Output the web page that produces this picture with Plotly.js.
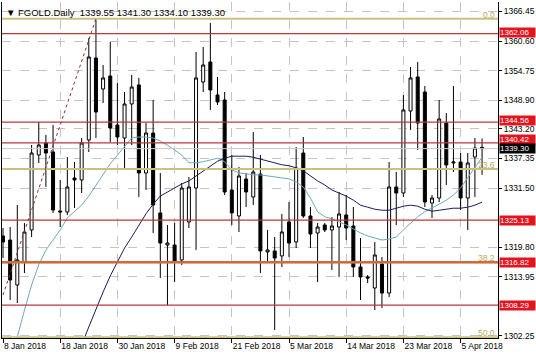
<!DOCTYPE html>
<html>
<head>
<meta charset="utf-8">
<script src="https://cdn.plot.ly/plotly-3.0.1.min.js"></script>
<style>html,body{margin:0;padding:0;background:#fff;}#chart{width:536px;height:357px;}</style>
</head>
<body>
<div id="chart"></div>
<script>
const dates = ['2018-01-08','2018-01-09','2018-01-10','2018-01-11','2018-01-12','2018-01-15','2018-01-16','2018-01-17','2018-01-18','2018-01-19',
'2018-01-22','2018-01-23','2018-01-24','2018-01-25','2018-01-26','2018-01-29','2018-01-30','2018-01-31','2018-02-01','2018-02-02',
'2018-02-05','2018-02-06','2018-02-07','2018-02-08','2018-02-09','2018-02-12','2018-02-13','2018-02-14','2018-02-15','2018-02-16',
'2018-02-19','2018-02-20','2018-02-21','2018-02-22','2018-02-23','2018-02-26','2018-02-27','2018-02-28','2018-03-01','2018-03-02',
'2018-03-05','2018-03-06','2018-03-07','2018-03-08','2018-03-09','2018-03-11','2018-03-12','2018-03-13','2018-03-14','2018-03-15',
'2018-03-16','2018-03-18','2018-03-19','2018-03-20','2018-03-21','2018-03-22','2018-03-23','2018-03-26','2018-03-27','2018-03-28',
'2018-03-29','2018-04-02','2018-04-03','2018-04-04','2018-04-05','2018-04-06','2018-04-09','2018-04-10'];

const open = [1322.00,1321.20,1312.29,1316.85,1323.19,1338.04,1340.41,1338.63,1326.95,1326.75,
1333.48,1333.09,1341.01,1357.24,1351.11,1353.68,1343.98,1341.40,1348.14,1351.90,
1334.47,1342.39,1326.56,1320.21,1320.21,1317.25,1324.77,1331.50,1352.49,1356.45,
1349.92,1348.93,1331.11,1325.96,1333.28,1329.72,1334.27,1318.83,1319.03,1318.04,
1324.77,1320.81,1338.43,1325.96,1322.59,1324.18,1323.19,1323.78,1326.16,1323.98,
1315.86,1313.88,1311.70,1316.45,1310.71,1331.70,1330.51,1346.75,1353.48,1350.51,
1328.53,1329.52,1344.37,1336.45,1336.65,1329.52,1337.64,1339.55];
const high = [1323.58,1323.78,1328.14,1324.57,1340.02,1344.57,1342.00,1343.98,1333.09,1337.64,
1336.65,1341.40,1361.21,1364.77,1355.86,1360.41,1352.29,1350.51,1353.88,1353.29,
1344.37,1348.93,1334.47,1324.18,1324.57,1332.49,1333.68,1358.43,1359.42,1364.18,
1353.48,1350.51,1338.04,1335.66,1334.47,1342.59,1338.04,1323.19,1321.80,1326.36,
1328.73,1339.62,1341.60,1327.74,1324.57,1324.57,1325.76,1330.71,1330.12,1327.74,
1321.60,1314.27,1320.81,1317.84,1336.65,1334.67,1349.92,1355.46,1356.45,1351.70,
1330.12,1348.93,1346.35,1351.70,1338.43,1338.43,1341.40,1341.30];
const low = [1317.64,1309.32,1308.73,1314.67,1321.80,1336.45,1331.70,1326.56,1323.78,1326.16,
1327.54,1330.51,1338.63,1341.40,1348.33,1340.61,1340.02,1335.46,1340.02,1329.72,
1331.11,1322.59,1313.68,1308.33,1312.89,1316.26,1323.58,1319.23,1350.51,1346.95,
1347.94,1330.12,1324.18,1322.79,1327.74,1328.14,1314.67,1316.85,1303.38,1315.86,
1317.84,1319.62,1325.56,1319.62,1312.89,1322.79,1315.26,1313.88,1321.20,1313.88,
1309.32,1312.69,1307.34,1307.74,1309.92,1324.18,1329.72,1342.99,1339.02,1327.74,
1325.56,1328.73,1332.10,1334.67,1327.15,1323.19,1329.72,1334.10];
const close = [1320.81,1313.28,1317.25,1322.79,1338.43,1340.02,1338.43,1327.15,1326.75,1331.70,
1333.09,1340.41,1357.44,1346.55,1353.29,1343.38,1341.60,1348.14,1351.50,1334.47,
1342.39,1328.14,1320.61,1320.61,1316.85,1331.50,1331.70,1353.29,1355.86,1350.91,
1348.53,1330.71,1326.56,1333.88,1330.71,1334.67,1319.03,1319.23,1317.64,1322.79,
1320.61,1335.46,1325.96,1322.39,1323.78,1323.19,1323.98,1326.36,1323.58,1315.86,
1313.88,1313.68,1318.24,1310.71,1331.70,1330.51,1346.95,1353.29,1344.37,1328.73,
1329.52,1345.17,1336.06,1336.65,1329.52,1336.45,1339.42,1339.30];

const maFast = [1292.9,1297.4,1302.0,1307.3,1312.3,1316.3,1319.2,1321.2,1323.2,1325.6,
1326.8,1328.1,1329.9,1332.1,1334.1,1336.3,1338.0,1339.8,1341.4,1341.6,
1341.6,1341.4,1340.8,1340.0,1339.0,1338.0,1336.5,1336.5,1336.7,1337.1,
1337.4,1336.7,1335.1,1334.5,1334.3,1334.1,1334.1,1333.9,1333.7,1333.5,
1333.3,1332.7,1331.7,1329.5,1326.8,1325.8,1325.4,1324.8,1324.2,1323.4,
1322.6,1322.0,1321.6,1321.2,1321.4,1321.8,1323.2,1324.6,1325.8,1326.8,
1327.5,1328.3,1329.1,1330.1,1331.5,1333.5,1335.7,1337.6];
const maSlow = [null,null,null,null,null,null,null,null,null,1292.5,
1296.5,1300.4,1304.0,1307.5,1310.9,1314.1,1316.7,1319.6,1321.8,1324.2,
1326.4,1328.3,1329.9,1330.7,1331.5,1332.3,1332.9,1333.9,1334.9,1335.9,
1336.8,1337.4,1337.8,1337.8,1337.8,1337.6,1337.2,1336.8,1336.4,1336.1,
1335.9,1335.5,1334.9,1333.9,1332.9,1332.1,1331.1,1330.5,1329.9,1329.1,
1328.1,1327.7,1327.3,1327.1,1327.1,1327.5,1327.9,1328.1,1327.9,1327.3,
1326.9,1327.1,1327.3,1327.5,1327.5,1327.7,1328.1,1328.7];

const tickDates = ['2018-01-08','2018-01-18','2018-01-30','2018-02-09','2018-02-21','2018-03-05','2018-03-14','2018-03-23','2018-04-05'];
const tickLabels = ['8 Jan 2018','18 Jan 2018','30 Jan 2018','9 Feb 2018','21 Feb 2018','5 Mar 2018','14 Mar 2018','23 Mar 2018','5 Apr 2018'];
const priceTicks = [1366.45,1360.60,1354.75,1348.90,1343.20,1337.35,1331.50,1319.80,1313.95,1302.25];
const levels = [1362.06,1344.56,1340.42,1325.13,1308.29];
const strongLevel = 1316.82;
const bidPrice = 1339.30;
const fibPrices = [1365.03,1335.25,1316.82,1301.93];
const fibNames = ['0.0','23.6','38.2','50.0'];
const fibLine = {x0:'2018-01-08', y0:1310.3, x1:'2018-01-25', y1:1365.03};
const titleText = '\u25BC FGOLD.Daily  1339.55 1341.30 1334.10 1339.30';

const F = 'Liberation Sans, Arial, sans-serif';
const FS = 8.5;

const traces = [
  {type:'scatter', mode:'lines', x:dates, y:maFast, line:{color:'#6fa9b3', width:1}, hoverinfo:'skip', showlegend:false},
  {type:'scatter', mode:'lines', x:dates, y:maSlow, line:{color:'#1c1c5e', width:1}, hoverinfo:'skip', showlegend:false, connectgaps:false},
  {type:'candlestick', x:dates, open:open, high:high, low:low, close:close,
   increasing:{line:{color:'#000', width:1}, fillcolor:'#ffffff'},
   decreasing:{line:{color:'#000', width:1}, fillcolor:'#000000'},
   whiskerwidth:0, showlegend:false, hoverinfo:'skip'}
];

const shapes = [];
fibPrices.forEach(p => shapes.push({type:'line', xref:'paper', x0:0, x1:1, yref:'y', y0:p, y1:p, line:{color:'#c8c27e', width:2}, layer:'above'}));
levels.forEach(p => shapes.push({type:'line', xref:'paper', x0:0, x1:1, yref:'y', y0:p, y1:p, line:{color:'#b83a3a', width:1.3}, layer:'above'}));
shapes.push({type:'line', xref:'paper', x0:0, x1:1, yref:'y', y0:strongLevel, y1:strongLevel, line:{color:'#cf6a3a', width:2.5}, layer:'above'});
shapes.push({type:'line', xref:'paper', x0:0, x1:1, yref:'y', y0:bidPrice, y1:bidPrice, line:{color:'#c8c8c8', width:1}, layer:'above'});
shapes.push({type:'line', xref:'x', yref:'y', x0:fibLine.x0, y0:fibLine.y0, x1:fibLine.x1, y1:fibLine.y1, line:{color:'#8b3030', width:1, dash:'dot'}, layer:'above'});

const labelShift = {1362.06:1.5, 1344.56:1.5, 1340.42:3, 1325.13:0, 1308.29:0, 1316.82:0};
const annotations = [];
levels.concat([strongLevel]).forEach(p => annotations.push({
  xref:'paper', x:1, xanchor:'left', xshift:1, yref:'y', y:p, yanchor:'middle', yshift:labelShift[p] || 0,
  text:p.toFixed(2), showarrow:false, font:{family:F, size:8, color:'#fff'},
  bgcolor:'#e3141e', borderpad:0, width:35, height:9, align:'left'
}));
annotations.push({xref:'paper', x:1, xanchor:'left', xshift:1, yref:'y', y:bidPrice, yanchor:'middle', yshift:0,
  text:bidPrice.toFixed(2), showarrow:false, font:{family:F, size:8, color:'#fff'},
  bgcolor:'#000', borderpad:0, width:35, height:9, align:'left'});
fibPrices.forEach((p,i) => annotations.push({
  xref:'paper', x:1, xanchor:'right', xshift:-1, yref:'y', y:p, yanchor:'bottom', yshift:-3,
  text:fibNames[i], showarrow:false, font:{family:F, size:FS, color:'#b3aa62'}
}));
annotations.push({xref:'paper', x:0, xanchor:'left', xshift:2, yref:'paper', y:1, yanchor:'top', yshift:-3,
  text:titleText, showarrow:false, font:{family:F, size:9.5, color:'#000'}});

const layout = {
  width:536, height:357,
  margin:{l:2, r:38, t:2, b:19},
  paper_bgcolor:'#fff', plot_bgcolor:'#fff',
  boxgap:0.4,
  showlegend:false,
  xaxis:{type:'category', range:[-0.14, 69.23], tickmode:'array', tickvals:tickDates, ticktext:tickLabels,
    ticklabelposition:'outside right', ticks:'outside', ticklen:4, tickcolor:'#000',
    showgrid:true, gridcolor:'#c4c4c4', griddash:'dash', gridwidth:1,
    showline:true, linecolor:'#000', linewidth:1, zeroline:false,
    rangeslider:{visible:false}, tickfont:{family:F, size:FS, color:'#000'}, fixedrange:true},
  yaxis:{side:'right', range:[1301.80, 1368.33], tickmode:'array', tickvals:priceTicks, ticktext:priceTicks.map(v=>v.toFixed(2)),
    ticks:'outside', ticklen:3, tickcolor:'#000',
    showgrid:true, gridcolor:'#c4c4c4', griddash:'dash', gridwidth:1,
    showline:true, mirror:true, linecolor:'#000', linewidth:1, zeroline:false,
    tickfont:{family:F, size:FS, color:'#000'}, fixedrange:true},
  shapes:shapes, annotations:annotations
};

Plotly.newPlot('chart', traces, layout, {displayModeBar:false, staticPlot:true});
</script>
</body>
</html>
